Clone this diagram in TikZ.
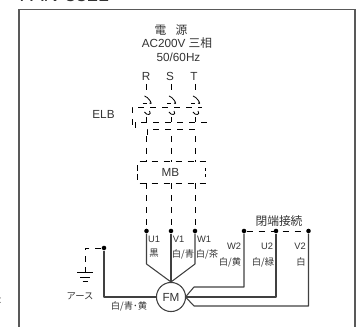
\documentclass[tikz,border=0pt]{standalone}
\usepackage{fontspec}
\setmainfont{Liberation Sans}
\newfontfamily\cjk{Noto Sans CJK JP}
\usetikzlibrary{positioning,calc}
\tikzset{frame/.style={draw=black!65,line width=0.9pt}}
\tikzset{grid/.style={dash pattern=on 4.5pt off 4.5pt,line width=0.6pt}}
\tikzset{wire/.style={black!75,line width=0.8pt,line join=round}}
\tikzset{dot/.style={circle,fill=black,inner sep=0pt,minimum size=3.4pt}}
\tikzset{lbl/.style={inner sep=0pt,font=\fontsize{7pt}{8pt}\selectfont,text=black!80}}
\tikzset{biglbl/.style={lbl,font=\fontsize{8.8pt}{10pt}\selectfont}}
\begin{document}
\begin{tikzpicture}[x=0.75pt,y=-0.75pt]
  \useasboundingbox (0,0) rectangle (357,327);
  \clip (0,0) rectangle (357,327);
  % frame
  \draw[frame] (19,327)--(19,9.5)--(355,9.5)--(355,327);
  \node[lbl,anchor=base west,font=\fontsize{15pt}{16pt}\selectfont] (title) at (19,2) {FAN-3321};
  \node[lbl,font=\fontsize{8pt}{8pt}\selectfont] (mark) at (0,301) {:};
  % supply
  \node[biglbl] (src) at (171,30) {\cjk 電\hspace{7pt}源};
  \node[biglbl] (volt) at (177,43) {AC200V {\cjk 三相}};
  \node[biglbl] (freq) at (178.5,57) {50/60Hz};
  \node[biglbl] (R) at (146,76) {R};
  \node[biglbl] (S) at (170,76) {S};
  \node[biglbl] (T) at (194,76) {T};
  \node[biglbl] (ELB) at (103.5,114.5) {ELB};
  \node[biglbl] (MB) at (170.5,172) {MB};
  % dashed boxes
  \draw[grid] (132,125)--(132,107)--(202,107);
  \draw[grid] (135,128)--(135,122)--(208,122)--(208,127);
  \draw[grid] (147,135)--(147,129)--(200,129);
  \draw[grid] (137,171)--(137,161.5)--(205,161.5)--(205,171);
  \draw[grid] (137,174)--(137,183.5)--(205,183.5)--(205,174);
  \foreach \i/\x in {1/146.5,2/171,3/195}{
    \coordinate (top\i) at (\x,84);
    \coordinate (sw\i) at (\x,100);
    \coordinate (mid\i) at (\x,112);
    \draw[grid] (top\i)--(\x,90);
    \draw[line width=0.6pt] ($(sw\i)+(-2,-4)$) .. controls +(3,0) and +(5,3) .. ($(sw\i)+(3,3)$);
    \draw[line width=0.6pt] ($(sw\i)+(-4,3)$)--($(sw\i)+(0,3)$);
    \draw[line width=0.6pt] ($(mid\i)+(-2,0)$) .. controls +(2,4) and +(3,4) .. ($(mid\i)+(3,-1)$);
    \draw[line width=0.6pt] ($(mid\i)+(0,5)$)--($(mid\i)+(0,10)$);
    \draw[grid] (\x,136)--(\x,162);
    \draw[grid] (\x,183.5)--(\x,231);
    \node[dot] (in\i) at (\x,231) {};
  }
  % motor
  \node[circle,draw=black!75,line width=0.8pt,minimum size=21.8pt,inner sep=0pt,font=\fontsize{8.8pt}{9pt}\selectfont,text=black!80] (FM) at (171,297) {FM};
  \draw[wire] (in1)--(146.5,264)--(171,282);
  \draw[wire] (in2)--(171,282);
  \draw[wire] (in3)--(195,264)--(171,282);
  \node[dot] (w2) at (244,231) {};
  \node[dot] (u2) at (276,231) {};
  \node[dot] (v2) at (308.5,231) {};
  \draw[grid] (w2)--(v2);
  \draw[wire] (w2)--(244,287)--(194,287)--(185.5,297);
  \draw[wire] (u2)--(276,297)--(185.5,297);
  \draw[wire] (v2)--(308.5,306)--(194,306)--(185.5,297);
  % earth
  \node[dot] (pe) at (104,248) {};
  \coordinate (gnd) at (85.5,267);
  \draw[wire] (pe)--(104,297)--(FM.west);
  \draw[grid] (pe)--(85.5,248)--(gnd);
  \draw[line width=0.6pt] (77,272)--(93,272) (80,277)--(90,277) (82.5,281.5)--(87.5,281.5) (85.5,267)--(85.5,272);
  \node[lbl] (earth) at (80,296) {\cjk アース};
  \node[lbl] (ebl) at (129,306) {\cjk 白/青･黄};
  % wire labels
  \node[lbl] at (154,239) {U1};
  \node[lbl] at (154,253) {\cjk 黒};
  \node[lbl] at (178.5,239) {V1};
  \node[lbl] at (183,254) {\cjk 白/青};
  \node[lbl] at (204,239) {W1};
  \node[lbl] at (207,254) {\cjk 白/茶};
  \node[lbl] at (234,246) {W2};
  \node[lbl] at (230,262) {\cjk 白/黄};
  \node[lbl] at (267,246) {U2};
  \node[lbl] at (263,262) {\cjk 白/緑};
  \node[lbl] at (300,246) {V2};
  \node[lbl] at (301,262) {\cjk 白};
  \node[biglbl] (short) at (279,221) {\cjk 閉端接続};
\end{tikzpicture}
\end{document}
